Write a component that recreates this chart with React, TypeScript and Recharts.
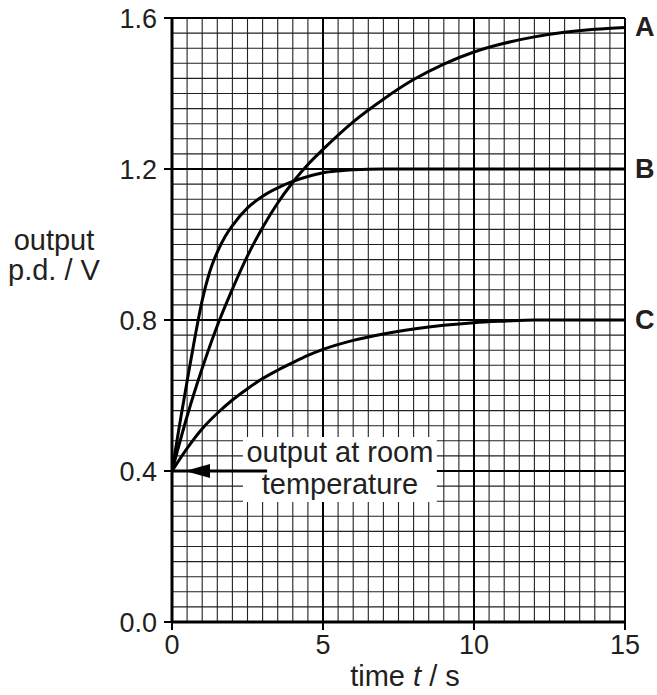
import React from "react";
import {
  LineChart,
  Line,
  XAxis,
  YAxis,
  CartesianGrid,
  ReferenceArea,
  ReferenceLine,
  ReferenceDot,
} from "recharts";

const timeTicks = [0, 5, 10, 15];
const pdTicks = [0, 0.4, 0.8, 1.2, 1.6];

const seriesA = [
  { t: 0, v: 0.4 },
  { t: 0.5, v: 0.545 },
  { t: 1, v: 0.672 },
  { t: 1.5, v: 0.785 },
  { t: 2, v: 0.882 },
  { t: 2.5, v: 0.97 },
  { t: 3, v: 1.045 },
  { t: 3.5, v: 1.11 },
  { t: 4, v: 1.165 },
  { t: 4.5, v: 1.212 },
  { t: 5, v: 1.252 },
  { t: 6, v: 1.325 },
  { t: 7, v: 1.385 },
  { t: 8, v: 1.437 },
  { t: 9, v: 1.478 },
  { t: 10, v: 1.51 },
  { t: 11, v: 1.533 },
  { t: 12, v: 1.55 },
  { t: 13, v: 1.562 },
  { t: 14, v: 1.57 },
  { t: 15, v: 1.575 },
];

const seriesB = [
  { t: 0, v: 0.4 },
  { t: 0.25, v: 0.522 },
  { t: 0.5, v: 0.638 },
  { t: 0.75, v: 0.75 },
  { t: 1, v: 0.852 },
  { t: 1.25, v: 0.928 },
  { t: 1.5, v: 0.98 },
  { t: 1.75, v: 1.02 },
  { t: 2, v: 1.05 },
  { t: 2.5, v: 1.097 },
  { t: 3, v: 1.128 },
  { t: 3.5, v: 1.15 },
  { t: 4, v: 1.167 },
  { t: 4.5, v: 1.18 },
  { t: 5, v: 1.19 },
  { t: 5.5, v: 1.195 },
  { t: 6, v: 1.198 },
  { t: 7, v: 1.2 },
  { t: 15, v: 1.2 },
];

const seriesC = [
  { t: 0, v: 0.4 },
  { t: 0.5, v: 0.46 },
  { t: 1, v: 0.512 },
  { t: 1.5, v: 0.553 },
  { t: 2, v: 0.588 },
  { t: 2.5, v: 0.618 },
  { t: 3, v: 0.645 },
  { t: 3.5, v: 0.667 },
  { t: 4, v: 0.687 },
  { t: 4.5, v: 0.706 },
  { t: 5, v: 0.722 },
  { t: 6, v: 0.746 },
  { t: 7, v: 0.763 },
  { t: 8, v: 0.776 },
  { t: 9, v: 0.786 },
  { t: 10, v: 0.793 },
  { t: 11, v: 0.797 },
  { t: 12, v: 0.8 },
  { t: 15, v: 0.8 },
];

const seriesLabels = [
  { name: "A", t: 15, v: 1.575 },
  { name: "B", t: 15, v: 1.2 },
  { name: "C", t: 15, v: 0.8 },
];

const annotationLines = ["output at room", "temperature"];

const minorT: number[] = [];
for (let i = 0; i <= 30; i++) minorT.push(i * 0.5);
const minorV: number[] = [];
for (let i = 0; i <= 40; i++) minorV.push(Math.round(i * 4) / 100);

const FONT = "'Liberation Sans', Arial, Helvetica, sans-serif";
const TEXT = "#231f20";

const AnnotationLabel = (props: any) => {
  const vb = props.viewBox || {};
  const cx = vb.x + vb.width / 2;
  return (
    <g>
      <text x={cx} y={vb.y + 25} textAnchor="middle" fontSize={29} fontFamily={FONT} fill={TEXT}>
        {annotationLines[0]}
      </text>
      <text x={cx} y={vb.y + 57} textAnchor="middle" fontSize={29} fontFamily={FONT} fill={TEXT}>
        {annotationLines[1]}
      </text>
    </g>
  );
};

export default function App() {
  return (
    <div style={{ position: "absolute", left: 0, top: 0, width: 657, height: 695, background: "#fff" }}>
      <LineChart
        width={657}
        height={695}
        margin={{ top: 18, right: 32, bottom: 43, left: 112 }}
      >
        <XAxis
          xAxisId="minor"
          dataKey="t"
          type="number"
          domain={[0, 15]}
          ticks={minorT}
          interval={0}
          allowDataOverflow
          hide
        />
        <YAxis
          yAxisId="minor"
          dataKey="v"
          type="number"
          domain={[0, 1.6]}
          ticks={minorV}
          interval={0}
          allowDataOverflow
          hide
        />
        <CartesianGrid
          xAxisId="minor"
          yAxisId="minor"
          stroke="#222"
          strokeWidth={1.1}
        />
        <CartesianGrid stroke="#000" strokeWidth={2} />
        <XAxis
          dataKey="t"
          type="number"
          domain={[0, 15]}
          ticks={timeTicks}
          interval={0}
          allowDataOverflow
          height={30}
          tickSize={8}
          tickMargin={5}
          axisLine={{ stroke: "#000", strokeWidth: 3 }}
          tickLine={{ stroke: "#000", strokeWidth: 2 }}
          tick={{ fontSize: 27, fontFamily: FONT, fill: TEXT }}
        />
        <YAxis
          dataKey="v"
          type="number"
          domain={[0, 1.6]}
          ticks={pdTicks}
          interval={0}
          allowDataOverflow
          width={60}
          tickSize={8}
          tickMargin={7}
          tickFormatter={(v: number) => v.toFixed(1)}
          axisLine={{ stroke: "#000", strokeWidth: 3 }}
          tickLine={{ stroke: "#000", strokeWidth: 2 }}
          tick={{ fontSize: 27, fontFamily: FONT, fill: TEXT }}
        />
        <ReferenceArea
          x1={2.35}
          x2={8.77}
          y1={0.318}
          y2={0.49}
          fill="#fff"
          fillOpacity={1}
          stroke="none"
          label={<AnnotationLabel />}
        />
        <ReferenceLine
          segment={[
            { x: 0, y: 0.4 },
            { x: 3.15, y: 0.4 },
          ]}
          stroke="#000"
          strokeWidth={3}
        />
        <ReferenceDot
          x={0.43}
          y={0.4}
          r={1}
          shape={(p: any) => (
            <polygon
              points={`${p.cx},${p.cy} ${p.cx + 25},${p.cy - 7} ${p.cx + 25},${p.cy + 7}`}
              fill="#000"
            />
          )}
        />
        <Line data={seriesA} dataKey="v" type="monotone" stroke="#000" strokeWidth={3} dot={false} isAnimationActive={false} />
        <Line data={seriesB} dataKey="v" type="monotone" stroke="#000" strokeWidth={3} dot={false} isAnimationActive={false} />
        <Line data={seriesC} dataKey="v" type="monotone" stroke="#000" strokeWidth={3} dot={false} isAnimationActive={false} />
        {seriesLabels.map((s) => (
          <ReferenceDot
            key={s.name}
            x={s.t}
            y={s.v}
            r={1}
            shape={(p: any) => (
              <text
                x={p.cx + 10}
                y={p.cy + 9}
                fontSize={27}
                fontWeight="bold"
                fontFamily={FONT}
                fill={TEXT}
              >
                {s.name}
              </text>
            )}
          />
        ))}
      </LineChart>
      <svg
        width={657}
        height={695}
        style={{ position: "absolute", left: 0, top: 0, pointerEvents: "none" }}
      >
        <text x={54} y={250} textAnchor="middle" fontSize={29} fontFamily={FONT} fill={TEXT}>
          output
        </text>
        <text x={54} y={280} textAnchor="middle" fontSize={29} fontFamily={FONT} fill={TEXT}>
          p.d. / V
        </text>
        <text x={405} y={686} textAnchor="middle" fontSize={29} fontFamily={FONT} fill={TEXT}>
          time <tspan fontStyle="italic">t</tspan> / s
        </text>
      </svg>
    </div>
  );
}
